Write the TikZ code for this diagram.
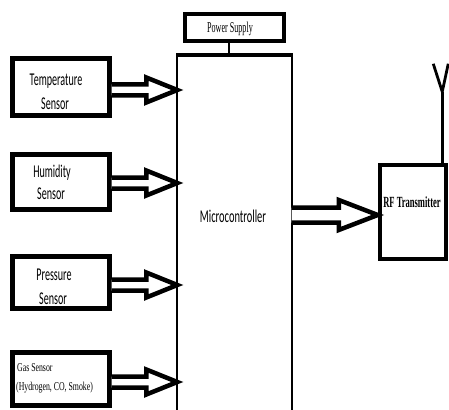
\documentclass[tikz,border=0pt]{standalone}
\usepackage{fontspec}
\usetikzlibrary{calc}
\newfontfamily\sensfont[FakeStretch=0.56]{Carlito}
\newfontfamily\mcfont[FakeStretch=0.58]{Carlito}
\newfontfamily\serfont[FakeStretch=0.54]{Liberation Serif}
\newfontfamily\gasfont[FakeStretch=0.65]{Liberation Serif}
\newfontfamily\rffont[FakeStretch=0.55]{Liberation Serif}
\newcommand\blockarrow[5]{%
  \draw[arrowline] let \p1=(#1), \p2=(#2) in
    (\x1,\y1+#3) -- (\x2-#5,\y1+#3) -- (\x2-#5,\y1+#4) -- (\x2,\y1)
    -- (\x2-#5,\y1-#4) -- (\x2-#5,\y1-#3) -- (\x1,\y1-#3);}
\begin{document}
\begin{tikzpicture}[x=1pt,y=-1pt,
  box/.style={draw,line width=5pt,inner sep=0pt},
  arrowline/.style={draw,line width=4.5pt,line join=miter,miter limit=4,fill=white},
  lbl/.style={inner sep=0pt,anchor=base,font=\sensfont\fontsize{18}{18}\selectfont},
  ]
\useasboundingbox (0,0) rectangle (449,409);
% boxes
\node[box,minimum width=97pt,minimum height=56pt] (temp) at (60.5,87) {};
\node[box,minimum width=97pt,minimum height=55pt] (hum) at (60.5,181.5) {};
\node[box,minimum width=97pt,minimum height=52pt] (pres) at (60.5,282) {};
\node[box,minimum width=97pt,minimum height=53pt] (gas) at (60.5,378.5) {};
\node[inner sep=0pt,minimum width=114pt,minimum height=355pt] (micro) at (234.5,232.5) {};
\node[box,line width=4pt,minimum width=99pt,minimum height=27pt] (power) at (234,28) {};
\node[box,line width=4.5pt,minimum width=66pt,minimum height=94pt] (rf) at (413,212) {};
% microcontroller outline (open at bottom)
\draw[line width=2.2pt] (micro.south west) -- (micro.north west);
\draw[line width=4.5pt] ($(micro.north west)+(-1.1,0)$) -- ($(micro.north east)+(1.1,0)$);
\draw[line width=2.2pt] (micro.north east) -- (micro.south east);
% texts
\node[lbl] (t1) at (56,86) {Temperature};
\node[lbl] (t2) at (55,110) {Sensor};
\node[lbl] (h1) at (52,177) {Humidity};
\node[lbl] (h2) at (51,199) {Sensor};
\node[lbl] (p1) at (54,280) {Pressure};
\node[lbl] (p2) at (53,304) {Sensor};
\node[inner sep=0pt,anchor=base,font=\mcfont\fontsize{18}{18}\selectfont] (mc) at (233,222) {Microcontroller};
\node[inner sep=0pt,anchor=base,font=\serfont\fontsize{15}{15}\selectfont] (ps) at (230,33) {Power Supply};
\node[inner sep=0pt,anchor=base west,font=\gasfont\fontsize{12}{12}\selectfont] (g1) at (17,371) {Gas Sensor};
\node[inner sep=0pt,anchor=base west,font=\gasfont\fontsize{12}{12}\selectfont] (g2) at (16,390) {(Hydrogen, CO, Smoke)};
\node[inner sep=0pt,anchor=base,font=\rffont\bfseries\fontsize{15.5}{15.5}\selectfont] (rft) at (412,207) {RF Transmitter};
% power connector
\draw[line width=2pt] (power.south -| 229,0) -- (micro.north -| 229,0);
% block arrows
\coordinate (ta) at ($(temp.east)+(0,3)$);
\coordinate (ha) at ($(hum.east)+(0,1.5)$);
\coordinate (pa) at ($(pres.east)+(0,3)$);
\coordinate (ga) at ($(gas.east)+(0,3.5)$);
\coordinate (ma) at ($(micro.east |- rf.west)+(0,3)$);
\blockarrow{ta}{micro.west |- ta}{5.5pt}{12.5pt}{31pt}
\blockarrow{ha}{micro.west |- ha}{5.5pt}{12.5pt}{31pt}
\blockarrow{pa}{micro.west |- pa}{5.5pt}{12.5pt}{31pt}
\blockarrow{ga}{micro.west |- ga}{5.5pt}{12.5pt}{31pt}
\blockarrow{ma}{rf.west |- ma}{7.5pt}{15pt}{39pt}
% antenna
\coordinate (antbase) at ($(rf.north east)+(-6,0)$);
\coordinate (apex) at ($(antbase)+(0,-71)$);
\coordinate (armL) at ($(apex)+(-9,-28)$);
\coordinate (armR) at ($(apex)+(6,-28)$);
\draw[line width=2.8pt] (antbase) -- (apex);
\draw[line width=2.8pt,line join=miter] (armL) -- (apex) -- (armR);
\end{tikzpicture}
\end{document}
